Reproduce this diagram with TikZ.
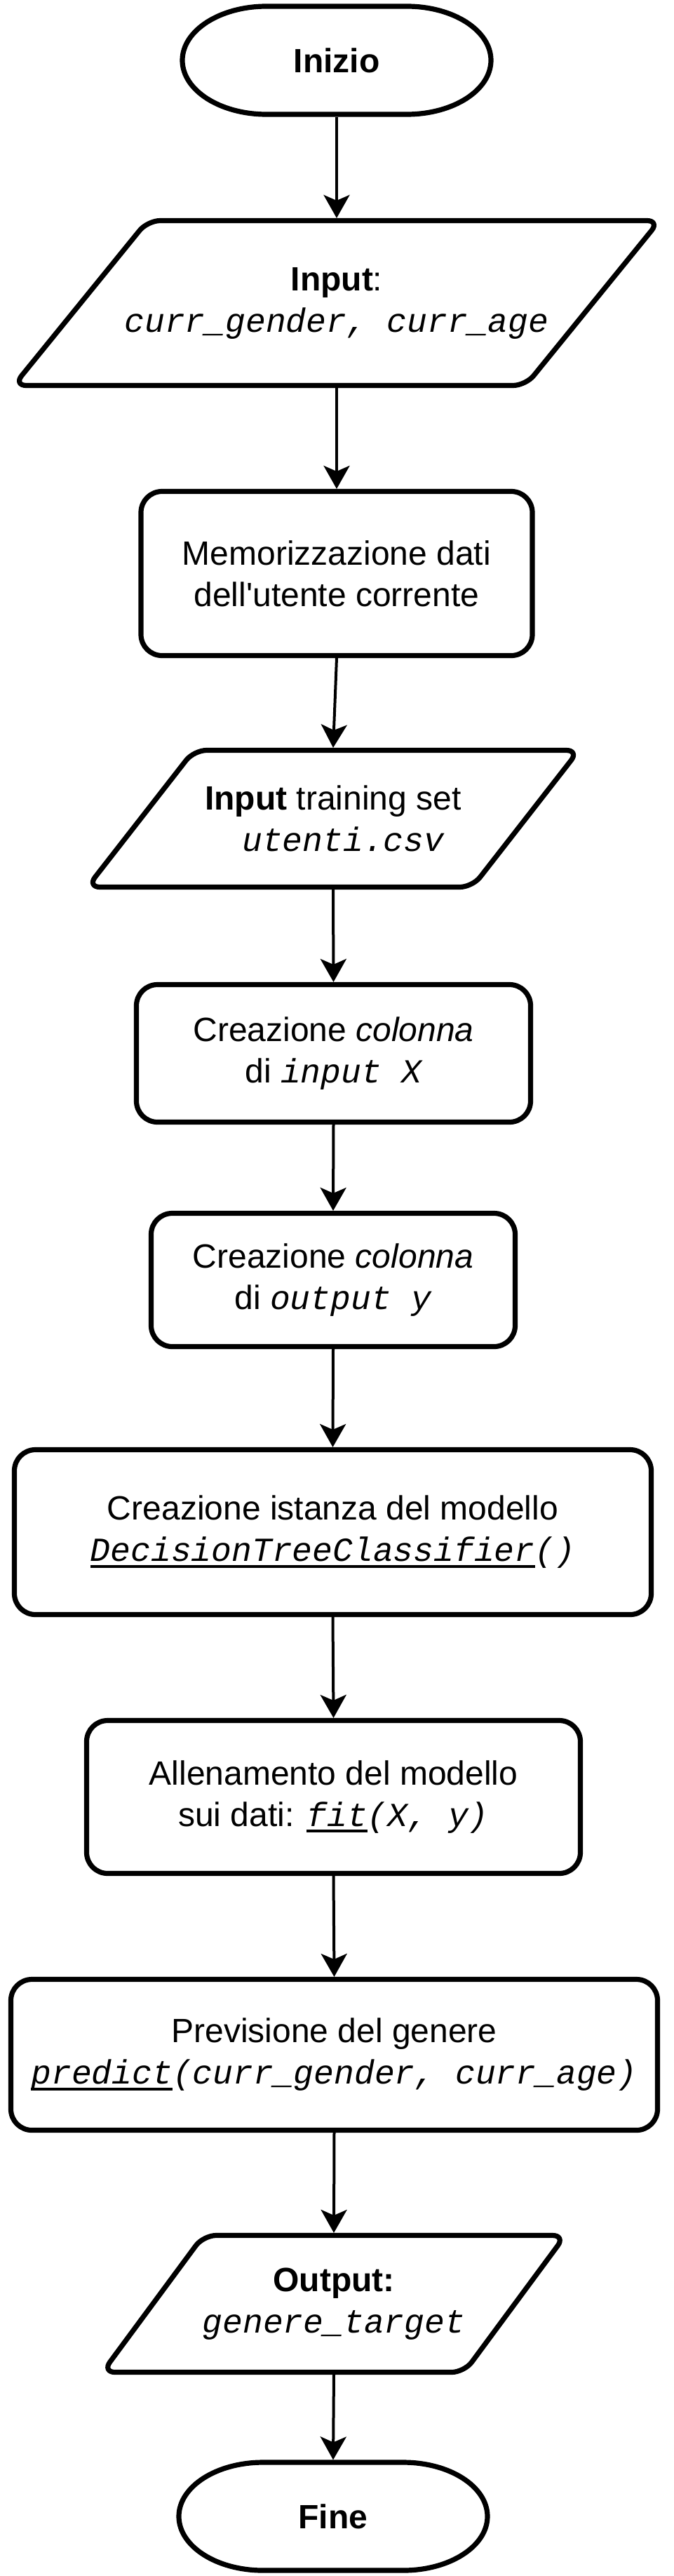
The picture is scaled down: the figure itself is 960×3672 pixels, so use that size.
\documentclass[tikz,border=0pt]{standalone}
\usepackage{fontspec}
\setmainfont{Liberation Sans}
\setmonofont{Liberation Mono}
\usetikzlibrary{calc,arrows.meta}
\def\termline(#1){\draw[outline] ($(#1)+(-100,-77)$) -- ($(#1)+(100,-77)$) arc[start angle=90,end angle=-90,x radius=60pt,y radius=38.5pt] -- ($(#1)+(-100,77)$) arc[start angle=270,end angle=90,x radius=60pt,y radius=38.5pt] -- cycle;}
\def\ioline(#1)(#2:#3:#4){\draw[outline,rounded corners=9pt] ($(#1)+(-#2+#3,-#4)$) -- ($(#1)+(#2+#3,-#4)$) -- ($(#1)+(#2-#3,#4)$) -- ($(#1)+(-#2-#3,#4)$) -- cycle;}
\def\code#1{{\ttfamily\itshape #1}}
\def\undl#1{\setbox0\hbox{#1}\rlap{\rule[-4.5pt]{\wd0}{2pt}}\box0}

\begin{document}
\begin{tikzpicture}[x=0.5pt,y=-0.5pt,
	every node/.style={font=\fontsize{24}{29.5}\selectfont, align=center},
	outline/.style={line width=3.6pt, line join=round},
	box/.style={draw, outline, rounded corners=15pt},
	term/.style={inner sep=0pt, outer sep=1.8pt, minimum height=77pt, font=\fontsize{24}{29.5}\selectfont\bfseries},
	io/.style={inner sep=0pt, outer sep=1.8pt},
	flow/.style={line width=2pt, -{Stealth[length=16.5pt,width=18.5pt,inset=4pt]}}]
			%%%%% START %%%%%
			\useasboundingbox (0,0) rectangle (960,3672);
			
			\node[term] (inizio) at (480,86) {Inizio};
			\termline(inizio)
			
			\node[io, minimum height=117.5pt] (in1) at (480,432) {{\bfseries Input}:\\\code{curr\_gender, curr\_age}};
			\ioline(in1)(365:95.5:117.5)
			
			\node[box, minimum width=279pt, minimum height=117pt] (mem) at (480,817.5) {Memorizzazione dati\\dell\textquotesingle utente corrente};
			
			\node[io, minimum height=97.5pt] (in2) at (475,1167) {{\bfseries Input} training set\\\code{\hspace*{0.6em}utenti.csv}};
			\ioline(in2)(274.5:76:97.5)
			
			\node[box, minimum width=281pt, minimum height=98pt] (colX) at (475.5,1501.5) {Creazione \textit{colonna}\\di \code{input X}};
			\node[box, minimum width=259.5pt, minimum height=95pt] (colY) at (475,1824.5) {Creazione \textit{colonna}\\di \code{output y}};
			
			\node[box, minimum width=454pt, minimum height=117.5pt] (model) at (474.5,2184) {Creazione istanza del modello\\\code{\undl{DecisionTreeClassifier}()}};
			\node[box, minimum width=352pt, minimum height=109pt] (fit) at (475.5,2561.5) {Allenamento del modello\\sui dati: \code{\undl{fit}(X, y)}};
			\node[box, minimum width=461pt, minimum height=107.5pt] (pred) at (476.5,2929) {Previsione del genere\\\code{\undl{predict}(curr\_gender, curr\_age)}};
			
			\node[io, minimum height=97.5pt] (out) at (476,3284) {\textbf{Output:}\\\code{genere\_target}};
			\ioline(out)(258:72:97.5)
			
			\node[term] (fine) at (475,3587) {Fine};
			\termline(fine)
			
			% connectors
			\draw[flow] (inizio.south) -- (in1.north);
			\draw[flow] (in1.south) -- (mem.north);
			\draw[flow] (mem.south) -- (in2.north);
			\draw[flow] (in2.south) -- (colX.north);
			\draw[flow] (colX.south) -- (colY.north);
			\draw[flow] (colY.south) -- (model.north);
			\draw[flow] (model.south) -- (fit.north);
			\draw[flow] (fit.south) -- (pred.north);
			\draw[flow] (pred.south) -- (out.north);
			\draw[flow] (out.south) -- (fine.north);
			%%%%% END %%%%%
\end{tikzpicture}
\end{document}
